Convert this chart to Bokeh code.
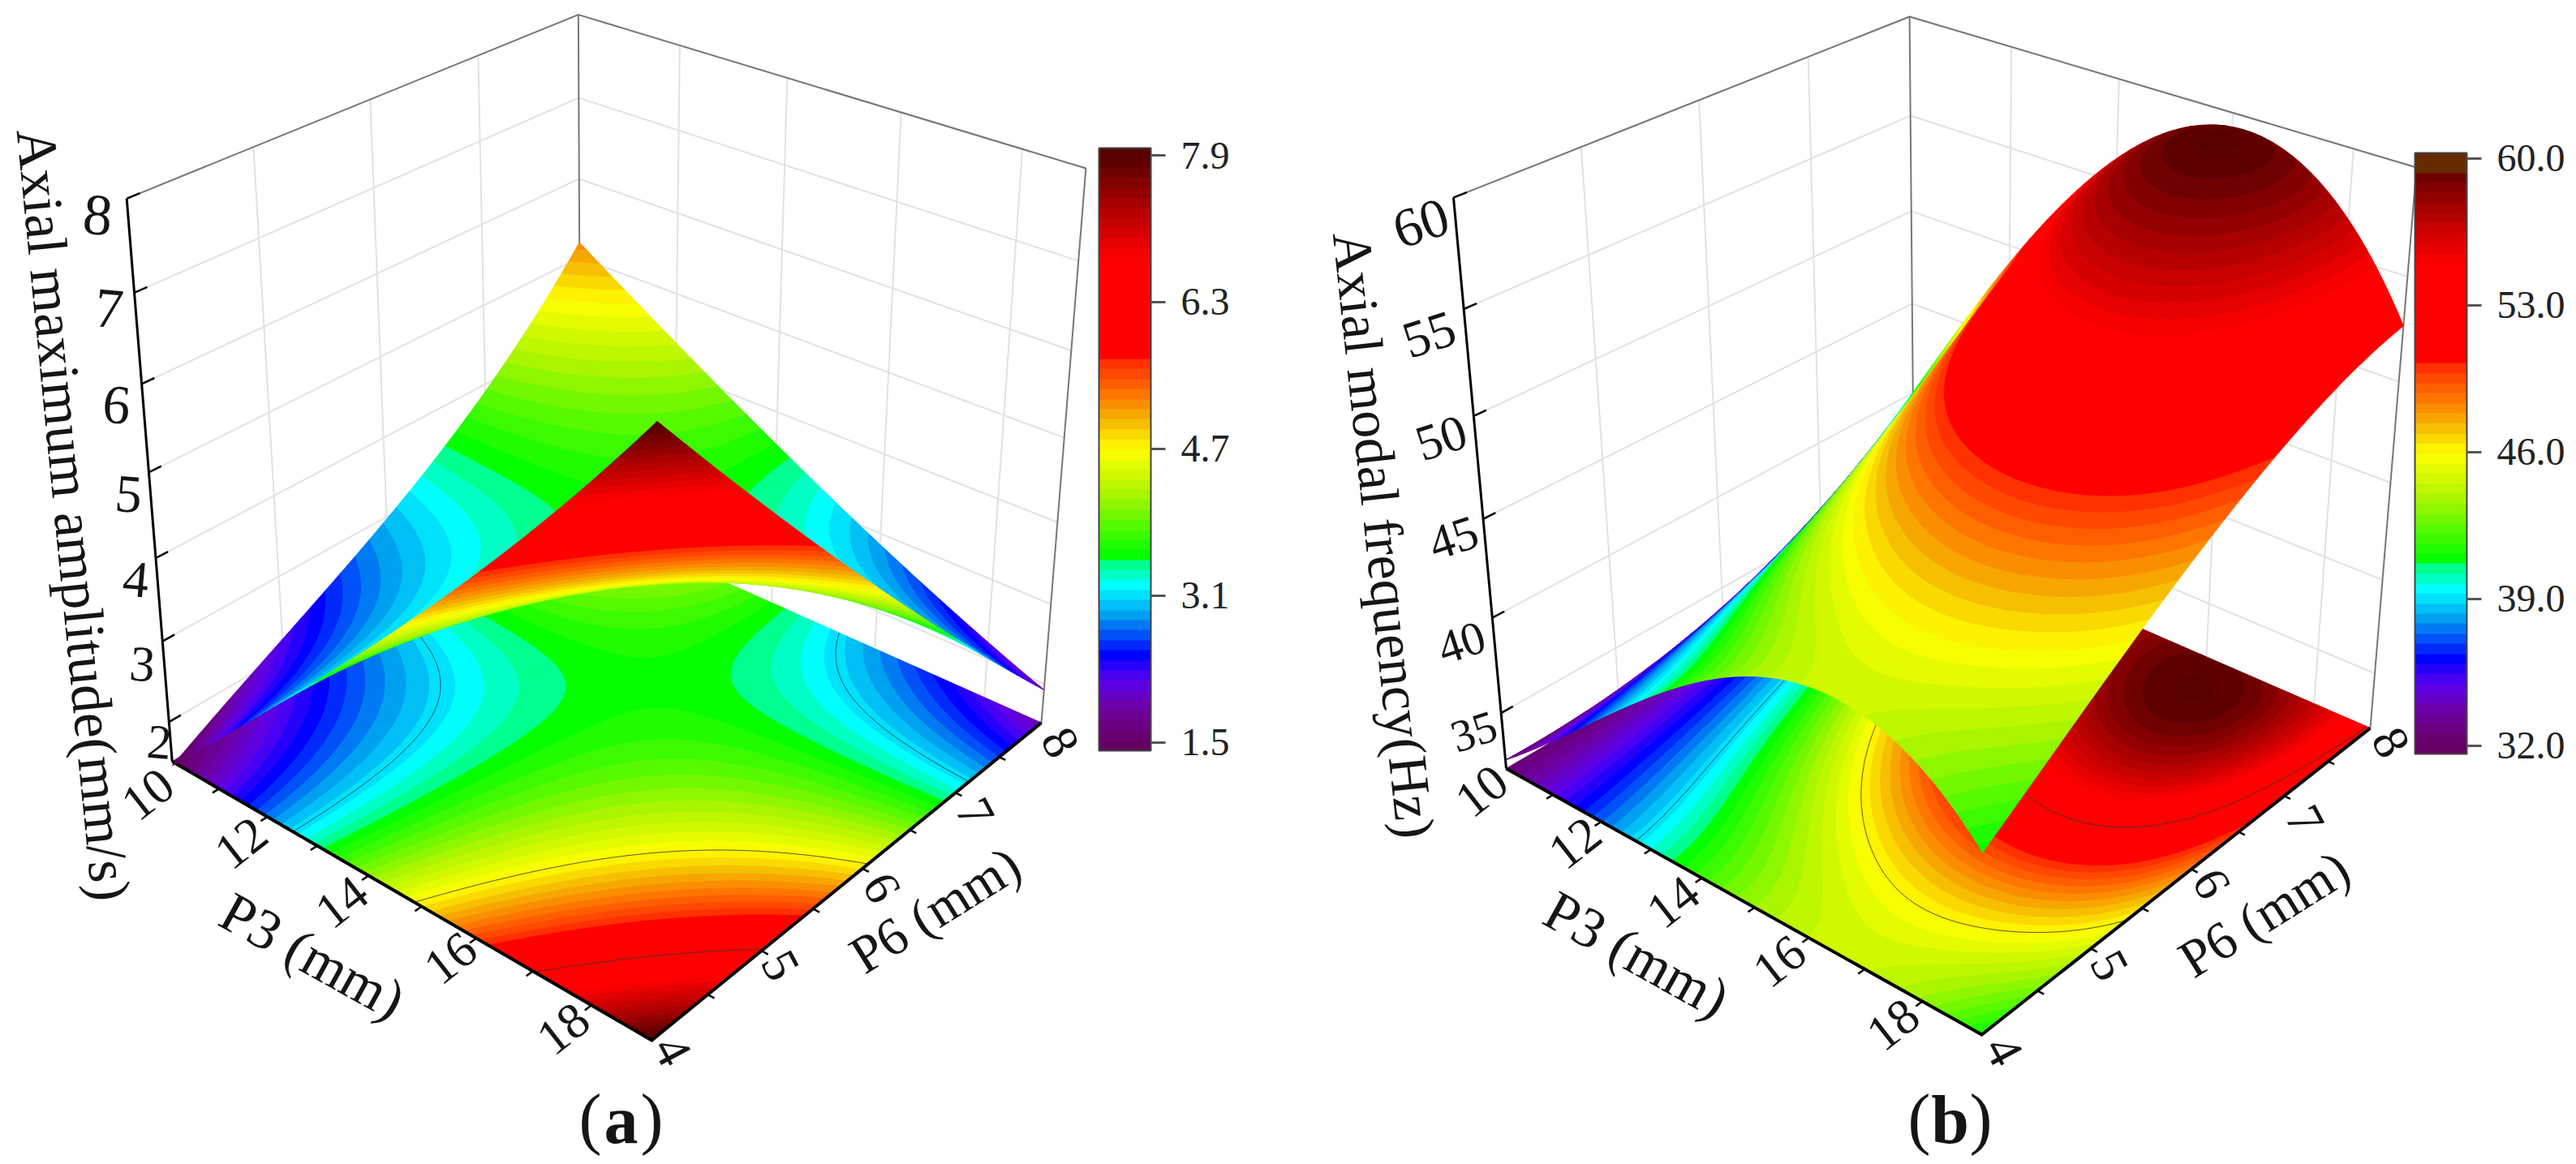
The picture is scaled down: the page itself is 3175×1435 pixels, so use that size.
import numpy as np
from bokeh.embed import file_html
from bokeh.resources import INLINE
from bokeh.plotting import figure
from bokeh.plotting.contour import contour_data
from bokeh.models import ColumnDataSource, ColorBar, LinearColorMapper, FixedTicker, PrintfTickFormatter
from bokeh.core.properties import value

# ---- data ----
P3_nodes = [10, 12, 14, 16, 18, 19]
P6_nodes = [4, 5, 6, 7, 8]
amp_p6_4 = [1.45, 2.75, 4.1, 5.55, 7.05, 7.95]
amp_p6_5 = [2.2, 3.0, 3.7, 4.6, 5.8, 6.3]
amp_p6_6 = [2.95, 3.3, 3.6, 4.0, 4.5, 4.75]
amp_p6_7 = [3.9, 3.8, 3.5, 3.4, 3.4, 3.3]
amp_p6_8 = [5.2, 4.35, 3.6, 2.9, 2.15, 1.95]
frq_p6_4 = [32.5, 37.0, 42.0, 44.5, 43.0, 41.0]
frq_p6_5 = [33.0, 38.5, 45.0, 47.5, 47.0, 45.0]
frq_p6_6 = [34.0, 40.0, 49.0, 52.5, 50.5, 48.5]
frq_p6_7 = [36.5, 45.0, 53.5, 59.4, 56.0, 51.5]
frq_p6_8 = [40.0, 49.0, 56.0, 59.5, 56.3, 52.8]
amp_ticks = [2, 3, 4, 5, 6, 7, 8]
frq_ticks = [35, 40, 45, 50, 55, 60]
amp_bar_ticks = [1.5, 3.1, 4.7, 6.3, 7.9]
frq_bar_ticks = [32.0, 39.0, 46.0, 53.0, 60.0]
P3_labels = [10, 12, 14, 16, 18]
P6_labels = [4, 5, 6, 7, 8]

SERIF = "Liberation Serif"
stops_t = [0, .014, .069, .117, .158, .22, .274, .312, .322, .425, .5, .549, .597, .648, .652, .816, .905, .974, 1]
stops_c = [(100,0,95),(100,0,100),(110,0,160),(90,0,240),(0,0,255),(0,150,240),(0,255,255),(0,255,130),(0,255,0),
           (170,245,0),(255,255,0),(245,180,0),(255,110,0),(255,40,0),(255,0,0),(255,0,0),(170,0,0),(95,0,0),(85,0,0)]
N = 60

def cmap(t):
    c = [np.interp(t, stops_t, [s[i] for s in stops_c]) for i in range(3)]
    return "#%02x%02x%02x" % tuple(int(round(x)) for x in c)

def palette():
    return [cmap((i + .5) / N) for i in range(N)]

def fit_camera(p3, p2):
    A, b = [], []
    for (X, Y, Z), (x, y) in zip(p3, p2):
        A.append([X, Y, Z, 1, 0, 0, 0, 0, -x * X, -x * Y, -x * Z])
        A.append([0, 0, 0, 0, X, Y, Z, 1, -y * X, -y * Y, -y * Z])
        b += [x, y]
    m = np.linalg.lstsq(np.array(A, float), np.array(b, float), rcond=None)[0]
    return np.append(m, 1.0).reshape(3, 4)

def proj(M, u, v, w):
    u, v, w = np.broadcast_arrays(np.asarray(u, float), np.asarray(v, float), np.asarray(w, float))
    d = M[2, 0] * u + M[2, 1] * v + M[2, 2] * w + M[2, 3]
    return ((M[0, 0] * u + M[0, 1] * v + M[0, 2] * w + M[0, 3]) / d,
            (M[1, 0] * u + M[1, 1] * v + M[1, 2] * w + M[1, 3]) / d)

def smooth(rows, deg=3, nu=141, nv=121):
    Z = np.array(rows, float)
    u = (np.array(P3_nodes, float) - 10) / 9
    v = (np.array(P6_nodes, float) - 4) / 4
    Vu = np.polynomial.chebyshev.chebvander(2 * u - 1, deg)
    Vv = np.polynomial.chebyshev.chebvander(2 * v - 1, deg)
    C = np.linalg.pinv(Vv) @ Z @ np.linalg.pinv(Vu).T
    uf, vf = np.linspace(0, 1, nu), np.linspace(0, 1, nv)
    Zf = np.polynomial.chebyshev.chebvander(2 * vf - 1, deg) @ C @ np.polynomial.chebyshev.chebvander(2 * uf - 1, deg).T
    U, V = np.meshgrid(uf, vf)
    return U, V, Zf

p = figure(width=3175, height=1435, x_range=(0, 3175), y_range=(1435, 0), toolbar_location=None,
           output_backend="svg", min_border=0, outline_line_color=None)
p.axis.visible = False
p.grid.visible = False

def bands(X, Y, Z, levels, pal):
    cd = contour_data(X, Y, Z, levels, want_fill=True, want_line=False)
    f = cd.fill_data
    keep = [i for i in range(len(f.xs)) if len(f.xs[i]) > 0]
    src = ColumnDataSource(dict(xs=[f.xs[i] for i in keep], ys=[f.ys[i] for i in keep],
                                c=[pal[int(np.searchsorted(levels, f.lower_levels[i], side="right")) - 1] for i in keep]))
    p.multi_polygons("xs", "ys", source=src, fill_color="c", line_color="c", line_width=1)

def text(x, y, s, size, angle=0, style="normal", color="#151515"):
    p.text([x], [y], text=[s], text_font=value(SERIF), text_font_size=f"{size}px", angle=np.deg2rad(angle),
           text_align="center", text_baseline="middle", text_font_style=style, text_color=color)

def panel(rows, zmin, zmax, zticks, bar_lo, bar_hi, bar_ticks, anchors3, anchors2, split, bar_x, bar_bot, bar_h, cap,
          ztick_pos, zsize, zangle, p3_pos, p6_pos, ztitle, ztitle_pos, ztitle_size, ztitle_angle, p3t, p6t, letter, letter_x):
    M = fit_camera(anchors3, anchors2)
    wz = lambda z: (np.asarray(z, float) - zmin) / (zmax - zmin)
    # walls: grid
    xs, ys = [], []
    for z in zticks:
        for a, b in [((0, 0), (0, 1)), ((0, 1), (1, 1))]:
            x, y = proj(M, np.linspace(a[0], b[0], 2), np.linspace(a[1], b[1], 2), wz(z))
            xs.append(x.tolist()); ys.append(y.tolist())
    for v in [.25, .5, .75]:
        x, y = proj(M, [0, 0], [v, v], [0, 1]); xs.append(x.tolist()); ys.append(y.tolist())
    for t in [12, 14, 16, 18]:
        u = (t - 10) / 9
        x, y = proj(M, [u, u], [1, 1], [0, 1]); xs.append(x.tolist()); ys.append(y.tolist())
    p.multi_line(xs, ys, line_color="#e2e2e2", line_width=2)
    # wall outline
    xs, ys = [], []
    for path in [[(0, 0, 1), (0, 1, 1), (1, 1, 1), (1, 1, 0)], [(0, 1, 0), (0, 1, 1)]]:
        x, y = proj(M, [q[0] for q in path], [q[1] for q in path], [q[2] for q in path])
        xs.append(x.tolist()); ys.append(y.tolist())
    p.multi_line(xs, ys, line_color="#777777", line_width=2)

    U, V, Z = smooth(rows)
    levels = np.linspace(bar_lo, bar_hi, N + 1)
    pal = palette()
    Zc = np.clip(Z, bar_lo + 1e-6, bar_hi - 1e-6)
    fx, fy = proj(M, U, V, 0)
    bands(fx, fy, Zc, levels, pal)
    p.contour(fx, fy, Zc, levels=bar_ticks[1:-1], fill_color=None, line_color="#333333", line_width=1, line_alpha=.8)

    # floor axes and ticks
    x, y = proj(M, [0, 1, 1], [0, 0, 1], [0, 0, 0])
    p.line(x, y, line_color="black", line_width=4, line_join="miter")
    x, y = proj(M, [0, 0], [0, 0], [0, 1])
    p.line(x, y, line_color="black", line_width=3)
    xs, ys = [], []
    for t in range(11, 19):
        u = (t - 10) / 9
        x, y = proj(M, [u, u], [0, -.014], [0, 0]); xs.append(x.tolist()); ys.append(y.tolist())
    for v in np.arange(.125, 1, .125):
        x, y = proj(M, [1, 1.012], [v, v], [0, 0]); xs.append(x.tolist()); ys.append(y.tolist())
    for z in zticks:
        x, y = proj(M, [0, 0], [0, .025], wz(z)); xs.append(x.tolist()); ys.append(y.tolist())
    p.multi_line(xs, ys, line_color="black", line_width=2.5)

    # surface
    Wz = wz(Zc)
    sx, sy = proj(M, U, V, Wz)
    if split:
        s = U + (1 - V)
        back = np.where(s <= 1.06, Zc, np.nan)
        front = np.where(s >= .98, Zc, np.nan)
        bands(sx, sy, back, levels, pal)
        bands(sx, sy, front, levels, pal)
    else:
        bands(sx, sy, Zc, levels, pal)

    # labels
    for z, (x, y), sz in zip(zticks, ztick_pos, zsize):
        text(x, y, str(z), sz, zangle)
    for t, (x, y) in zip(P3_labels, p3_pos):
        text(x, y, str(t), 62, 38)
    for t, (x, y) in zip(P6_labels, p6_pos):
        text(x, y, str(t), 62, -62)
    text(ztitle_pos[0], ztitle_pos[1], ztitle, ztitle_size, ztitle_angle)
    text(p3t[0], p3t[1], "P3 (mm)", 70, -29)
    text(p6t[0], p6t[1], "P6 (mm)", 66, 32)
    text(letter_x - 38, 1378, "(", 84)
    text(letter_x, 1380, letter, 84, 0, "bold")
    text(letter_x + 38, 1378, ")", 84)

    bar_pal = list(pal)
    if cap:
        bar_pal[-1] = cap
        bar_pal[-2] = cap
    mapper = LinearColorMapper(palette=bar_pal, low=bar_lo, high=bar_hi)
    cb = ColorBar(color_mapper=mapper, ticker=FixedTicker(ticks=bar_ticks), formatter=PrintfTickFormatter(format="%.1f"),
                  location=(bar_x, 1435 - bar_bot), width=64, height=bar_h, padding=0, margin=0,
                  major_tick_in=0, major_tick_out=18, major_tick_line_color="#555555", major_tick_line_width=3,
                  minor_tick_line_color=None, bar_line_color="#444444", bar_line_width=2, label_standoff=19,
                  major_label_text_font=SERIF, major_label_text_font_size="48px", major_label_text_color="#222222",
                  background_fill_alpha=0, border_line_color=None)
    p.add_layout(cb, "center")

panel([amp_p6_4, amp_p6_5, amp_p6_6, amp_p6_7, amp_p6_8], 1.5, 8, amp_ticks, 1.41, 7.98, amp_bar_ticks,
      [(0, 0, 0), (1, 0, 0), (1, 1, 0), (0, 0, 1), (0, 1, 1), (1, 1, 1), (1, 0, .985), (0, 1, 0)],
      [(216, 952), (802, 1275), (1282, 901), (153, 243), (713, 23), (1341, 209), (808, 515), (713, 622)],
      True, 1354, 925, 743, None,
      [(196, 915), (175, 819), (167, 714), (158, 609), (143, 499), (134, 380), (120, 265)],
      [60, 62, 64, 66, 68, 70, 72], -5,
      [(182, 979), (297, 1039), (421, 1112), (555, 1181), (694, 1268)],
      [(828, 1295), (961, 1190), (1086, 1094), (1201, 1002), (1306, 915)],
      "Axial maximum amplitude(mm/s)", (90, 634), 70, -84.4, (385, 1178), (1152, 1121), "a", 765)

panel([frq_p6_4, frq_p6_5, frq_p6_6, frq_p6_7, frq_p6_8], 32, 60, frq_ticks, 31.6, 60.27, frq_bar_ticks,
      [(0, 0, 0), (1, 0, 0), (1, 1, 0), (0, 0, 1), (0, 1, 1), (1, 1, 1)],
      [(1856, 947), (2442, 1275), (2921, 897), (1791, 243), (2353, 20), (2978, 206)],
      False, 2976, 929, 741, "#662a00",
      [(1816, 901), (1801, 792), (1791, 663), (1776, 540), (1761, 412), (1751, 275)],
      [56, 58, 60, 62, 64, 68], 18,
      [(1826, 975), (1941, 1039), (2062, 1112), (2193, 1185), (2333, 1263)],
      [(2469, 1295), (2599, 1190), (2725, 1089), (2840, 1011), (2946, 915)],
      "Axial modal frequency(Hz)", (1705, 659), 68, -83.9, (2017, 1176), (2790, 1126), "b", 2403)

open("out.html", "w").write(file_html(p, INLINE))
